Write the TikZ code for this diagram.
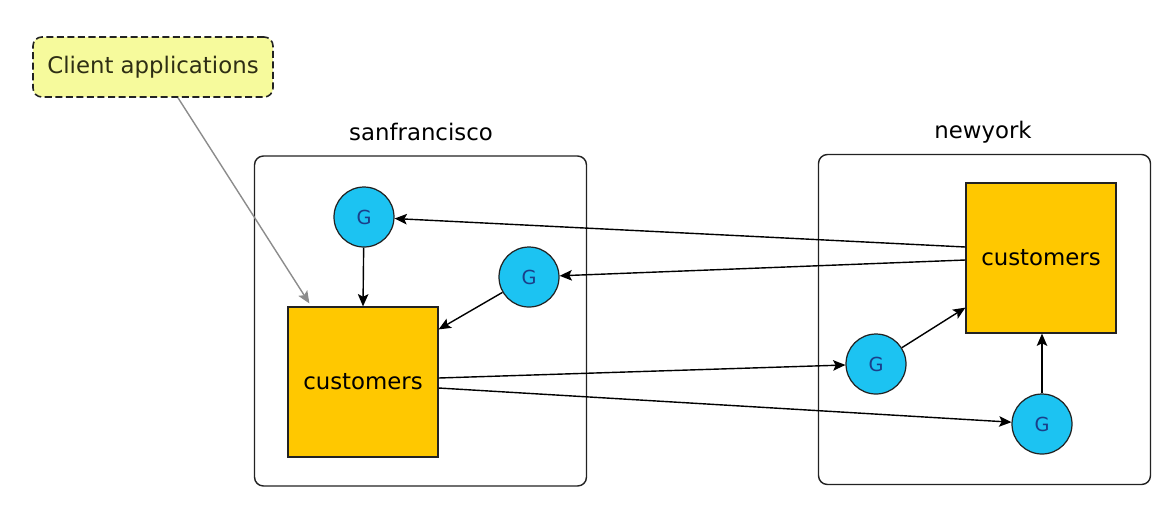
\documentclass[tikz,border=0pt]{standalone}
\usepackage{fontspec}
\setmainfont{DejaVu Sans}
\usetikzlibrary{arrows.meta,calc}
\definecolor{gwcyan}{HTML}{1CC3F2}
\definecolor{gwblue}{HTML}{1A3F8A}
\definecolor{regold}{HTML}{FFC800}
\definecolor{noteyel}{HTML}{F6FA9C}
\definecolor{notetext}{HTML}{2E2E14}
\definecolor{linkgray}{HTML}{8C8C8C}
\definecolor{dkgray}{HTML}{222222}

\begin{document}
\begin{tikzpicture}[>={Stealth[length=7pt,width=6pt,inset=1.5pt]},x=0.02cm,y=-0.02cm,font=\fontsize{13}{15}\selectfont,
  site/.style={draw=dkgray,line width=0.8pt,rounded corners=5pt,minimum width=6.64cm,minimum height=6.6cm},
  region/.style={draw=dkgray,fill=regold,line width=0.7pt,minimum size=3cm,inner sep=0pt},
  gw/.style={circle,draw=dkgray,fill=gwcyan,line width=0.7pt,minimum size=1.2cm,inner sep=0pt,
    text=gwblue,font=\fontsize{11}{13}\selectfont},
  link/.style={->,line width=0.8pt,black}]

  \useasboundingbox (0,0) rectangle (1171,512);

  % =====================================================================
  % 1. SITES
  % =====================================================================

  \node[site] (sfbox) at (420.5, 321) {};
  \node[site] (nybox) at (984.5, 319.5) {};
  \node (sflabel) at (421, 132) {sanfrancisco};
  \node (nylabel) at (983, 132) {newyork};

  % regions
  \node[region] (sfcust) at (363, 382) {customers};
  \node[region] (nycust) at (1041, 258) {customers};

  % gateways
  \node[gw] (sfg1) at (364, 217) {G};
  \node[gw] (sfg2) at (529, 277) {G};
  \node[gw] (nyg1) at (876, 364) {G};
  \node[gw] (nyg2) at (1042, 424) {G};

  % =====================================================================
  % 2. CLIENT NOTE
  % =====================================================================

  \node[draw=dkgray,fill=noteyel,text=notetext,dash pattern=on 4pt off 2pt,line width=0.9pt,rounded corners=5pt,
        minimum width=4.8cm,minimum height=1.2cm] (client) at (153, 67) {Client applications};

  % =====================================================================
  % 3. CONNECTORS
  % =====================================================================

  \draw[->,linkgray,line width=0.8pt] ($(client.south)+(25,0)$) -- ($(sfcust.north west)+(22,-3)$);

  % newyork -> sanfrancisco
  \draw[link] ($(nycust.west)+(0,-11)$) -- (sfg1);
  \draw[link] ($(nycust.west)+(0,2)$) -- (sfg2);
  \draw[link] (sfg1) -- (sfcust.north);
  \draw[link] (sfg2) -- ($(sfcust.north east)+(0,23)$);

  % sanfrancisco -> newyork
  \draw[link] ($(sfcust.east)+(0,-4)$) -- (nyg1);
  \draw[link] ($(sfcust.east)+(0,6)$) -- (nyg2);
  \draw[link] (nyg1) -- ($(nycust.south west)+(0,-26)$);
  \draw[link] (nyg2) -- (nycust.south -| nyg2);

\end{tikzpicture}
\end{document}
